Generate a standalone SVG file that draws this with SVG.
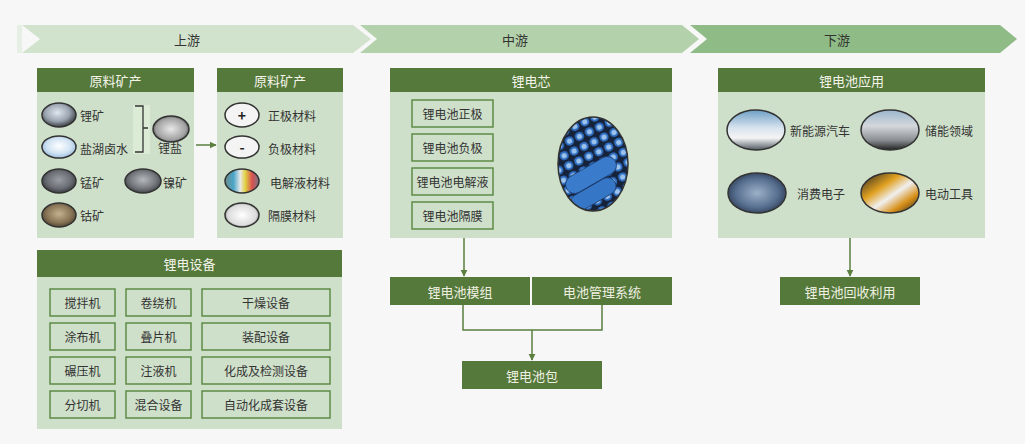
<svg xmlns="http://www.w3.org/2000/svg" width="1025" height="444" viewBox="0 0 1025 444">
<style>
text{font-family:"Noto Sans CJK SC","Liberation Sans",sans-serif;dominant-baseline:central}
.ban{font-size:13px;fill:#333;text-anchor:middle}
.hd{fill:#55793a}
.hdt{font-size:13px;fill:#f4f4ea;text-anchor:middle}
.body{fill:#cfe0ca}
.it{font-size:12px;fill:#333}
.itc{font-size:12px;fill:#333;text-anchor:middle}
.ib{fill:none;stroke:#5e8a46;stroke-width:1.5}
.gb{fill:#55793a}
.gbt{font-size:13px;fill:#f0f0e2;text-anchor:middle}
.ph{stroke:#333;stroke-width:1.5}
.con{fill:none;stroke:#5b7f3f;stroke-width:1.5}
</style>
<defs>
<marker id="ah" viewBox="0 0 10 10" refX="9" refY="5" markerWidth="7" markerHeight="8" markerUnits="userSpaceOnUse" orient="auto"><path d="M0,0 L10,5 L0,10 z" fill="#5b7f3f"/></marker>
<radialGradient id="gLi" cx="0.45" cy="0.4" r="0.6"><stop offset="0" stop-color="#dfe6ee"/><stop offset="0.6" stop-color="#9aa4b0"/><stop offset="1" stop-color="#3c3f44"/></radialGradient>
<radialGradient id="gSalt" cx="0.5" cy="0.45" r="0.6"><stop offset="0" stop-color="#ffffff"/><stop offset="0.6" stop-color="#cfe2f2"/><stop offset="1" stop-color="#8fb3d6"/></radialGradient>
<radialGradient id="gMn" cx="0.5" cy="0.45" r="0.6"><stop offset="0" stop-color="#9a9ea4"/><stop offset="0.6" stop-color="#6a6e74"/><stop offset="1" stop-color="#2e3033"/></radialGradient>
<radialGradient id="gNi" cx="0.5" cy="0.45" r="0.6"><stop offset="0" stop-color="#b5b8bc"/><stop offset="0.6" stop-color="#75797e"/><stop offset="1" stop-color="#38393c"/></radialGradient>
<radialGradient id="gCo" cx="0.5" cy="0.45" r="0.6"><stop offset="0" stop-color="#c4b28e"/><stop offset="0.6" stop-color="#8a7658"/><stop offset="1" stop-color="#4a3e2e"/></radialGradient>
<radialGradient id="gLs" cx="0.5" cy="0.5" r="0.6"><stop offset="0" stop-color="#e8e8e8"/><stop offset="0.7" stop-color="#a0a0a0"/><stop offset="1" stop-color="#111"/></radialGradient>
<radialGradient id="gSep" cx="0.5" cy="0.5" r="0.6"><stop offset="0" stop-color="#ffffff"/><stop offset="0.7" stop-color="#dcdcdc"/><stop offset="1" stop-color="#555"/></radialGradient>
<linearGradient id="gEl" x1="0" x2="1" y1="0" y2="0"><stop offset="0" stop-color="#6a8a8a"/><stop offset="0.25" stop-color="#4aa6c8"/><stop offset="0.45" stop-color="#e8e8e8"/><stop offset="0.6" stop-color="#e0d040"/><stop offset="0.8" stop-color="#d85050"/><stop offset="1" stop-color="#778"/></linearGradient>
<linearGradient id="gCar" x1="0" x2="0" y1="0" y2="1"><stop offset="0" stop-color="#6e9fc6"/><stop offset="0.45" stop-color="#d8e4ee"/><stop offset="0.7" stop-color="#f4f4f4"/><stop offset="1" stop-color="#505a62"/></linearGradient>
<linearGradient id="gEss" x1="0" x2="0" y1="0" y2="1"><stop offset="0" stop-color="#9ab6cc"/><stop offset="0.4" stop-color="#d4d8dc"/><stop offset="0.75" stop-color="#8c9094"/><stop offset="1" stop-color="#222"/></linearGradient>
<radialGradient id="gPcb" cx="0.5" cy="0.5" r="0.6"><stop offset="0" stop-color="#9cb0c8"/><stop offset="0.6" stop-color="#587090"/><stop offset="1" stop-color="#223048"/></radialGradient>
<linearGradient id="gTool" x1="0" x2="1" y1="0" y2="1"><stop offset="0" stop-color="#222"/><stop offset="0.35" stop-color="#e0a020"/><stop offset="0.55" stop-color="#f0f0f0"/><stop offset="0.75" stop-color="#d89018"/><stop offset="1" stop-color="#222"/></linearGradient>
<pattern id="pBat" width="11" height="11" patternUnits="userSpaceOnUse" patternTransform="rotate(-25)"><rect width="11" height="11" fill="#16223a"/><circle cx="5.5" cy="5.5" r="4.6" fill="#2f6fc4"/><circle cx="5.5" cy="5.5" r="2.6" fill="#9cc3ec"/></pattern>
<clipPath id="cBat"><ellipse cx="593" cy="164" rx="35" ry="47"/></clipPath>
</defs>
<rect width="1025" height="444" fill="#f7f7f7"/>

<g id="banner">
<rect x="17" y="25" width="5" height="28" fill="#e6efe3"/>
<polygon points="22,25 353,25 371,39 353,53 22,53 40,39" fill="#d2e3cd"/>
<polygon points="360,25 682,25 699,39 682,53 360,53 377,39" fill="#b3d1aa"/>
<polygon points="690,25 1000,25 1017,39 1000,53 690,53 707,39" fill="#8fbc86"/>
<text class="ban" x="187" y="39">上游</text>
<text class="ban" x="515" y="39">中游</text>
<text class="ban" x="837" y="39">下游</text>
</g>

<g id="raw">
<rect class="body" x="37" y="68" width="157" height="170"/>
<rect class="hd" x="37" y="68" width="157" height="24"/>
<text class="hdt" x="115.5" y="80">原料矿产</text>
<rect x="133" y="105" width="17" height="49" fill="#dcebd6"/>
<path d="M135,106 H143 V128 H148 M143,128 V152 H135" fill="none" stroke="#333" stroke-width="1.3"/>
<ellipse class="ph" cx="59" cy="115" rx="17" ry="12" fill="url(#gLi)"/>
<text class="it" x="80" y="115">锂矿</text>
<ellipse class="ph" cx="59" cy="147" rx="17" ry="11" fill="url(#gSalt)"/>
<text class="it" x="80" y="148">盐湖卤水</text>
<ellipse class="ph" cx="171" cy="129" rx="18" ry="13" fill="url(#gLs)"/>
<text class="itc" x="170" y="147">锂盐</text>
<ellipse class="ph" cx="59" cy="181" rx="17" ry="12" fill="url(#gMn)"/>
<text class="it" x="80" y="182">锰矿</text>
<ellipse class="ph" cx="143" cy="181" rx="18" ry="12" fill="url(#gNi)"/>
<text class="it" x="163" y="182">镍矿</text>
<ellipse class="ph" cx="59" cy="215" rx="17" ry="12" fill="url(#gCo)"/>
<text class="it" x="80" y="215">钴矿</text>
</g>

<g id="materials">
<rect class="body" x="217" y="68" width="126" height="170"/>
<rect class="hd" x="217" y="68" width="126" height="24"/>
<text class="hdt" x="280" y="80">原料矿产</text>
<ellipse cx="242" cy="115" rx="17" ry="12" fill="#f4f4f4" stroke="#333" stroke-width="1.5"/>
<text x="242" y="115" style="font-size:14px;font-weight:bold;fill:#222;text-anchor:middle">+</text>
<text class="it" x="268" y="115">正极材料</text>
<ellipse cx="242" cy="147" rx="17" ry="11" fill="#f4f4f4" stroke="#333" stroke-width="1.5"/>
<text x="242" y="147" style="font-size:14px;font-weight:bold;fill:#222;text-anchor:middle">-</text>
<text class="it" x="268" y="148">负极材料</text>
<ellipse class="ph" cx="242" cy="181" rx="17" ry="12" fill="url(#gEl)"/>
<text class="it" x="270" y="182">电解液材料</text>
<ellipse class="ph" cx="242" cy="215" rx="17" ry="12" fill="url(#gSep)"/>
<text class="it" x="268" y="215">隔膜材料</text>
</g>

<g id="equipment">
<rect class="body" x="37" y="250" width="305" height="179"/>
<rect class="hd" x="37" y="250" width="305" height="27"/>
<text class="hdt" x="189.5" y="263">锂电设备</text>
<rect class="ib" x="50" y="289" width="65" height="27"/><text class="itc" x="82.5" y="302.5">搅拌机</text>
<rect class="ib" x="126" y="289" width="65" height="27"/><text class="itc" x="158.5" y="302.5">卷绕机</text>
<rect class="ib" x="202" y="289" width="128" height="27"/><text class="itc" x="266" y="302.5">干燥设备</text>
<rect class="ib" x="50" y="323" width="65" height="27"/><text class="itc" x="82.5" y="336.5">涂布机</text>
<rect class="ib" x="126" y="323" width="65" height="27"/><text class="itc" x="158.5" y="336.5">叠片机</text>
<rect class="ib" x="202" y="323" width="128" height="27"/><text class="itc" x="266" y="336.5">装配设备</text>
<rect class="ib" x="50" y="357" width="65" height="27"/><text class="itc" x="82.5" y="370.5">碾压机</text>
<rect class="ib" x="126" y="357" width="65" height="27"/><text class="itc" x="158.5" y="370.5">注液机</text>
<rect class="ib" x="202" y="357" width="128" height="27"/><text class="itc" x="266" y="370.5">化成及检测设备</text>
<rect class="ib" x="50" y="391" width="65" height="27"/><text class="itc" x="82.5" y="404.5">分切机</text>
<rect class="ib" x="126" y="391" width="65" height="27"/><text class="itc" x="158.5" y="404.5">混合设备</text>
<rect class="ib" x="202" y="391" width="128" height="27"/><text class="itc" x="266" y="404.5">自动化成套设备</text>
</g>

<g id="cell">
<rect class="body" x="390" y="68" width="282" height="170"/>
<rect class="hd" x="390" y="68" width="282" height="24"/>
<text class="hdt" x="531" y="80">锂电芯</text>
<rect class="ib" x="412" y="100" width="81" height="27"/><text class="itc" x="452.5" y="113.5">锂电池正极</text>
<rect class="ib" x="412" y="134" width="81" height="27"/><text class="itc" x="452.5" y="147.5">锂电池负极</text>
<rect class="ib" x="412" y="168" width="81" height="27"/><text class="itc" x="452.5" y="181.5">锂电池电解液</text>
<rect class="ib" x="412" y="202" width="81" height="27"/><text class="itc" x="452.5" y="215.5">锂电池隔膜</text>
<g clip-path="url(#cBat)">
<rect x="556" y="115" width="76" height="98" fill="url(#pBat)"/>
<rect x="563" y="166" width="56" height="18" rx="9" fill="#3b7bcc" stroke="#1d3f70" stroke-width="0.8" transform="rotate(-30 591 175)"/>
<rect x="568" y="186" width="50" height="17" rx="8.5" fill="#3676c6" stroke="#1d3f70" stroke-width="0.8" transform="rotate(-30 593 194)"/>
</g>
<ellipse cx="593" cy="164" rx="35" ry="47" fill="none" stroke="#333" stroke-width="1.5"/>
</g>

<g id="application">
<rect class="body" x="718" y="68" width="267" height="170"/>
<rect class="hd" x="718" y="68" width="267" height="24"/>
<text class="hdt" x="851.5" y="80">锂电池应用</text>
<ellipse class="ph" cx="756" cy="130" rx="29" ry="20" fill="url(#gCar)"/>
<text class="it" x="790" y="130">新能源汽车</text>
<ellipse class="ph" cx="890" cy="130" rx="29" ry="20" fill="url(#gEss)"/>
<text class="it" x="925" y="130">储能领域</text>
<ellipse class="ph" cx="757" cy="193" rx="29" ry="20" fill="url(#gPcb)"/>
<text class="it" x="797" y="193">消费电子</text>
<ellipse class="ph" cx="890" cy="193" rx="29" ry="20" fill="url(#gTool)"/>
<text class="it" x="925" y="193">电动工具</text>
</g>

<g id="module">
<rect class="gb" x="390" y="277" width="140" height="28"/>
<text class="gbt" x="460" y="291">锂电池模组</text>
</g>
<g id="bms">
<rect class="gb" x="532" y="277" width="140" height="28"/>
<text class="gbt" x="602" y="291">电池管理系统</text>
</g>
<g id="pack">
<rect class="gb" x="462" y="361" width="140" height="28"/>
<text class="gbt" x="532" y="375">锂电池包</text>
</g>
<g id="recycle">
<rect class="gb" x="780" y="277" width="140" height="28"/>
<text class="gbt" x="850" y="291">锂电池回收利用</text>
</g>

<g id="connectors">
<line class="con" x1="196" y1="145" x2="216" y2="145" marker-end="url(#ah)"/>
<line class="con" x1="464" y1="238" x2="464" y2="276" marker-end="url(#ah)"/>
<path class="con" d="M463,305 V330 H602 V305"/>
<line class="con" x1="532" y1="330" x2="532" y2="360" marker-end="url(#ah)"/>
<line class="con" x1="850" y1="238" x2="850" y2="276" marker-end="url(#ah)"/>
</g>
</svg>
